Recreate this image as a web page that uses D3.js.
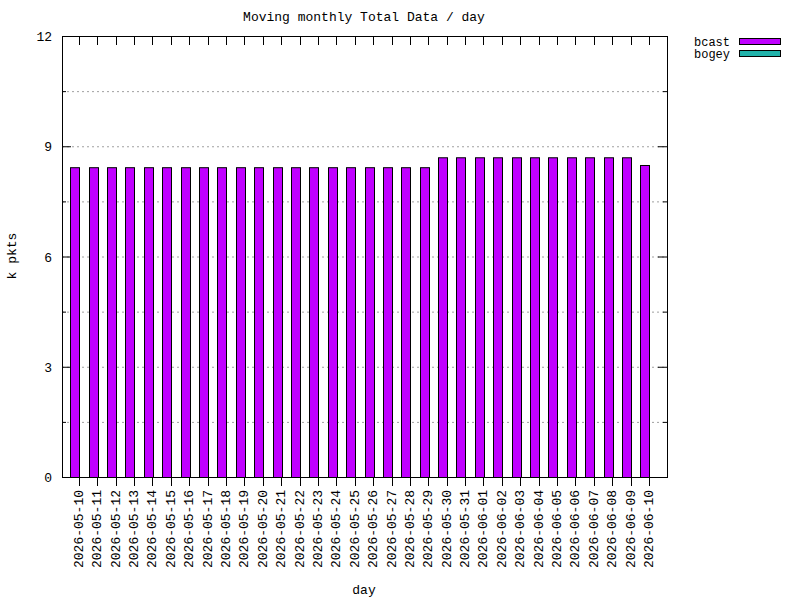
<!DOCTYPE html>
<html><head><meta charset="utf-8">
<script src="https://cdn.jsdelivr.net/npm/d3@7"></script>
<style>body{margin:0;background:#fff}text{font-family:"Liberation Mono","DejaVu Sans Mono",monospace;font-size:13px;fill:#000}</style>
</head><body>
<svg id="c" width="800" height="600"></svg>
<script>
const days = ["2026-05-10","2026-05-11","2026-05-12","2026-05-13","2026-05-14","2026-05-15","2026-05-16","2026-05-17","2026-05-18","2026-05-19","2026-05-20","2026-05-21","2026-05-22","2026-05-23","2026-05-24","2026-05-25","2026-05-26","2026-05-27","2026-05-28","2026-05-29","2026-05-30","2026-05-31","2026-06-01","2026-06-02","2026-06-03","2026-06-04","2026-06-05","2026-06-06","2026-06-07","2026-06-08","2026-06-09","2026-06-10"];
const bcast = [8.43,8.43,8.43,8.43,8.43,8.43,8.43,8.43,8.43,8.43,8.43,8.43,8.43,8.43,8.43,8.43,8.43,8.43,8.43,8.43,8.70,8.70,8.70,8.70,8.70,8.70,8.70,8.70,8.70,8.70,8.70,8.49];
const bogey = days.map(()=>0);
const yTicks = [0,3,6,9,12];
const yMinor = [1.5,4.5,7.5,10.5];
const seriesNames = ["bcast","bogey"];
const colors = ["#c000ff","#20b2aa"];

const svg = d3.select("#c");
const L=62,R=667,T=36,B=477;
const x = d3.scaleLinear().domain([-0.92,31.98]).range([L,R]);
const y = d3.scaleLinear().domain([0,12]).range([B,T]);
const step = x(1)-x(0);
const bw = step*0.47;

// grid
const g = svg.append("g");
[...yTicks.slice(1,-1),...yMinor].forEach(v=>{
  g.append("line").attr("x1",L).attr("x2",R).attr("y1",y(v)+0.5).attr("y2",y(v)+0.5)
   .attr("stroke","#a0a0a0").attr("stroke-dasharray","2,3");
});

// bars
svg.append("g").selectAll("rect").data(bcast).join("rect")
  .attr("x",(d,i)=>Math.round(x(i)-bw)+0.5).attr("y",d=>y(d)+0.5)
  .attr("width",Math.round(bw)).attr("height",d=>y(0)-y(d))
  .attr("fill",colors[0]).attr("stroke","#000").attr("stroke-width",1);

// frame
svg.append("rect").attr("x",L+0.5).attr("y",T+0.5).attr("width",R-L).attr("height",B-T)
  .attr("fill","none").attr("stroke","#000");

// y ticks
yTicks.forEach(v=>{
  const yy=y(v)+0.5;
  svg.append("line").attr("x1",L).attr("x2",L+9).attr("y1",yy).attr("y2",yy).attr("stroke","#000");
  svg.append("line").attr("x1",R-9).attr("x2",R).attr("y1",yy).attr("y2",yy).attr("stroke","#000");
  svg.append("text").attr("x",52).attr("y",yy+4.5).attr("text-anchor","end").text(v);
});
yMinor.forEach(v=>{
  const yy=y(v)+0.5;
  svg.append("line").attr("x1",L).attr("x2",L+4).attr("y1",yy).attr("y2",yy).attr("stroke","#000");
  svg.append("line").attr("x1",R-4).attr("x2",R).attr("y1",yy).attr("y2",yy).attr("stroke","#000");
});

// x ticks
days.forEach((d,i)=>{
  const xx=Math.round(x(i))+0.5;
  svg.append("line").attr("x1",xx).attr("x2",xx).attr("y1",B).attr("y2",B+9).attr("stroke","#000");
  svg.append("line").attr("x1",xx).attr("x2",xx).attr("y1",T).attr("y2",T+9).attr("stroke","#000");
  svg.append("text").attr("transform",`translate(${xx+3.5},490) rotate(-90)`).attr("text-anchor","end").text(d);
});

// titles
svg.append("text").attr("x",364).attr("y",21).attr("text-anchor","middle").text("Moving monthly Total Data / day");
svg.append("text").attr("x",364).attr("y",594).attr("text-anchor","middle").text("day");
svg.append("text").attr("transform","translate(16,256) rotate(-90)").attr("text-anchor","middle").text("k pkts");

// legend
seriesNames.forEach((n,i)=>{
  const yy=42+i*12;
  svg.append("text").attr("x",730).attr("y",yy+4).attr("text-anchor","end").style("font-size","12px").text(n);
  svg.append("rect").attr("x",739.5).attr("y",yy-3.5).attr("width",41).attr("height",6)
    .attr("fill",colors[i]).attr("stroke","#000");
});
</script>
</body></html>
